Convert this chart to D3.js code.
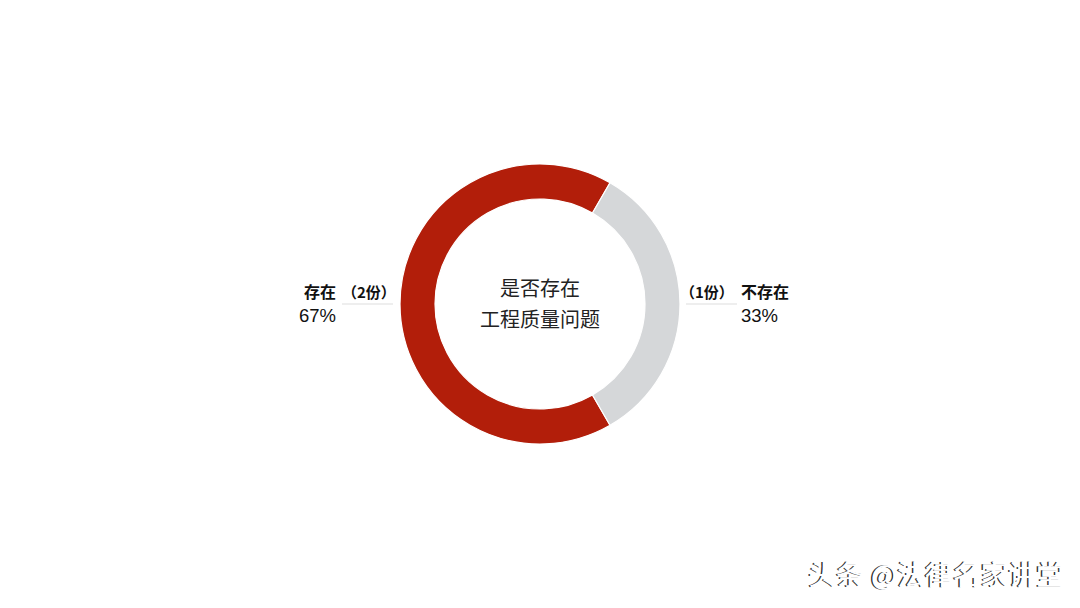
<!DOCTYPE html>
<html><head><meta charset="utf-8">
<script src="https://cdn.jsdelivr.net/npm/d3@7"></script>
<style>body{margin:0;background:#fff}svg{display:block}</style>
</head><body>
<svg id="c" width="1080" height="608"></svg>
<script>
const categories = ["存在", "不存在"];
const counts = ["（2份）", "（1份）"];
const values = [2, 1];
const percents = ["67%", "33%"];
const colors = ["#B21E0A", "#D5D7D9"];
const centerTitle = ["是否存在", "工程质量问题"];
const watermark = "头条 @法律名家讲堂";

const svg = d3.select("#c");
const cx = 540, cy = 304;
const font = "'Noto Sans CJK SC', 'Noto Sans', sans-serif";
const numFont = "'Liberation Sans', Arial, sans-serif";

const pie = d3.pie().sort(null).value(d => d)
  .startAngle(5 * Math.PI / 6).endAngle(5 * Math.PI / 6 + 2 * Math.PI);
const arc = d3.arc().innerRadius(105).outerRadius(140);
const g = svg.append("g").attr("transform", `translate(${cx},${cy})`);
g.selectAll("path").data(pie(values)).join("path")
  .attr("d", arc).attr("fill", (d, i) => colors[i])
  .attr("stroke", "#fff").attr("stroke-width", 1.2);

// center text
g.selectAll("text.ct").data(centerTitle).join("text").attr("class", "ct")
  .attr("x", 0).attr("y", (d, i) => -8 + i * 31)
  .attr("text-anchor", "middle").attr("font-family", font)
  .attr("font-size", 20).attr("fill", "#222").text(d => d);

// labels
const labelPos = [
  {side: "left", x: 304, pctX: 299, lineX1: 342, lineX2: 393},
  {side: "right", x: 741, pctX: 741, lineX1: 686, lineX2: 737}
];
categories.forEach((c, i) => {
  const p = labelPos[i];
  svg.append("line").attr("x1", p.lineX1).attr("x2", p.lineX2)
    .attr("y1", cy).attr("y2", cy).attr("stroke", "#ddd").attr("stroke-width", 1);
  if (p.side === "left") {
    svg.append("text").attr("x", p.x).attr("y", 298)
      .attr("font-family", font).attr("font-size", 16).attr("font-weight", "bold")
      .attr("fill", "#111").text(c);
    svg.append("text").attr("x", 342).attr("y", 298)
      .attr("font-family", font).attr("font-size", 15).attr("font-weight", "bold")
      .attr("fill", "#111").text(counts[i]);
  } else {
    svg.append("text").attr("x", 680).attr("y", 298)
      .attr("font-family", font).attr("font-size", 15).attr("font-weight", "bold")
      .attr("fill", "#111").text(counts[i]);
    svg.append("text").attr("x", p.x).attr("y", 298)
      .attr("font-family", font).attr("font-size", 16).attr("font-weight", "bold")
      .attr("fill", "#111").text(c);
  }
  svg.append("text").attr("x", p.pctX).attr("y", 322)
    .attr("font-family", numFont).attr("font-size", 18.5).attr("fill", "#111")
    .text(percents[i]);
});

// watermark
svg.append("text").attr("x", 807).attr("y", 585)
  .attr("font-family", font).attr("font-size", 27).attr("letter-spacing", 0.8)
  .attr("fill", "#333").text(watermark);
svg.append("text").attr("x", 808.5).attr("y", 585)
  .attr("font-family", font).attr("font-size", 27).attr("letter-spacing", 0.8)
  .attr("fill", "#fff").text(watermark);
</script>
</body></html>
